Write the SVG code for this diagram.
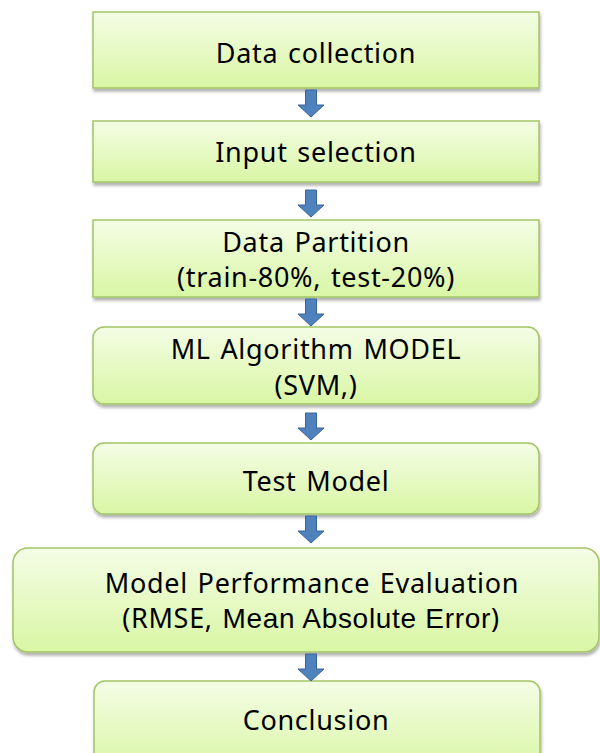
<svg xmlns="http://www.w3.org/2000/svg" width="600" height="753" viewBox="0 0 600 753">
<style>
.box{fill:url(#g);stroke:#a3c566;stroke-width:1.5;filter:url(#sh)}
.t{font-family:"Noto Sans","Open Sans","Liberation Sans",sans-serif;font-size:27px;letter-spacing:0.7px;word-spacing:2px;fill:#000;text-anchor:middle}
.a{font-family:"Liberation Sans",Arial,sans-serif;font-size:28px;letter-spacing:0.7px;word-spacing:0}
.arr{fill:#4f81bd;stroke:#3a6496;stroke-width:1}
</style>
<defs>
<linearGradient id="g" x1="0" y1="0" x2="0" y2="1">
<stop offset="0" stop-color="#f4fde6"/>
<stop offset="1" stop-color="#d9f6a4"/>
</linearGradient>
<filter id="sh" x="-5%" y="-10%" width="110%" height="130%">
<feDropShadow dx="1" dy="3" stdDeviation="1.5" flood-color="#000" flood-opacity="0.3"/>
</filter>
<path id="arrow" d="M-5.5,0 H5.5 V15 H13 L0,27 L-13,15 H-5.5 Z"/>
</defs>
<g id="n1"><rect class="box" x="93" y="12" width="446" height="76"/><text class="t" x="316" y="63">Data collection</text></g>
<g id="n2"><rect class="box" x="93" y="121" width="446" height="61"/><text class="t" x="316" y="162">Input selection</text></g>
<g id="n3"><rect class="box" x="93" y="220" width="446" height="77"/><text class="t" x="316" y="252">Data Partition</text><text class="t" x="316" y="287">(train-80%, test-20%)</text></g>
<g id="n4"><rect class="box" x="93" y="327" width="446" height="77" rx="11"/><text class="t" x="316" y="359">ML Algorithm MODEL</text><text class="t" x="316" y="395">(SVM,)</text></g>
<g id="n5"><rect class="box" x="93" y="443" width="446" height="71" rx="11"/><text class="t" x="316" y="491">Test Model</text></g>
<g id="n6"><rect class="box" x="13" y="548" width="586" height="104" rx="15"/><text class="t" x="312" y="593">Model Performance Evaluation</text><text class="t" x="311" y="628">(RMSE, <tspan class="a">Mean Absolute Error</tspan>)</text></g>
<g id="n7"><rect class="box" x="94" y="681" width="446" height="90" rx="11"/><text class="t" x="316" y="730">Conclusion</text></g>
<g id="connectors">
<use href="#arrow" class="arr" transform="translate(311,90)"/>
<use href="#arrow" class="arr" transform="translate(311,190)"/>
<use href="#arrow" class="arr" transform="translate(311,299)"/>
<use href="#arrow" class="arr" transform="translate(311,413)"/>
<use href="#arrow" class="arr" transform="translate(311,516)"/>
<use href="#arrow" class="arr" transform="translate(311,654)"/>
</g>
</svg>
